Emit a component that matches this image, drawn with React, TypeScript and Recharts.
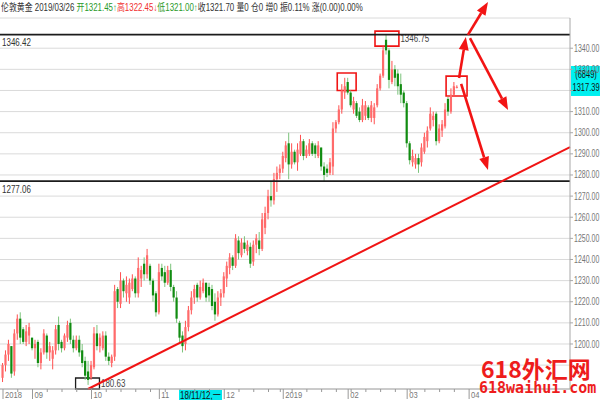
import {
  ComposedChart,
  Bar,
  XAxis,
  YAxis,
  CartesianGrid,
  ReferenceLine,
  ReferenceArea,
} from 'recharts'

// trading days shown on the chart, grouped by month
const tradingDays: [number, number, number[]][] = [
  [2018, 8, [20, 21, 22, 23, 24, 27, 28, 29, 30, 31]],
  [2018, 9, [3, 4, 5, 6, 7, 10, 11, 12, 13, 14, 17, 18, 19, 20, 21, 24, 25, 26, 27, 28]],
  [2018, 10, [1, 2, 3, 4, 5, 8, 9, 10, 11, 12, 15, 16, 17, 18, 19, 22, 23, 24, 25, 26, 29, 30, 31]],
  [2018, 11, [1, 2, 5, 6, 7, 8, 9, 12, 13, 14, 15, 16, 19, 20, 21, 22, 23, 26, 27, 28, 29, 30]],
  [2018, 12, [3, 4, 5, 6, 7, 10, 11, 12, 13, 14, 17, 18, 19, 20, 21, 24, 26, 27, 28, 31]],
  [2019, 1, [2, 3, 4, 7, 8, 9, 10, 11, 14, 15, 16, 17, 18, 21, 22, 23, 24, 25, 28, 29, 30, 31]],
  [2019, 2, [1, 4, 5, 6, 7, 8, 11, 12, 13, 14, 15, 18, 19, 20, 21, 22, 25, 26, 27, 28]],
  [2019, 3, [1, 4, 5, 6, 7, 8, 11, 12, 13, 14, 15, 18, 19, 20, 21, 22, 25, 26]],
]
const monthLabels = ['2018', '09', '10', '11', '12', '2019', '02', '03']
const nextMonthTick = { i: 158, label: '04' }
const cursorTick = { i: 60, label: '18/11/12,一' }

const opens = [
  1184, 1190, 1195, 1199, 1187, 1205, 1212, 1207, 1201, 1204,
  1203, 1198, 1201, 1191, 1196, 1204, 1196, 1193, 1197, 1209, 1201, 1198, 1203, 1210, 1202, 1198, 1202, 1197, 1192, 1187,
  1184, 1189, 1205, 1199, 1198, 1204, 1194, 1191, 1194, 1226, 1219, 1230, 1224, 1222, 1226, 1231, 1224, 1231, 1238, 1233, 1237, 1230, 1224,
  1215, 1236, 1234, 1229, 1235, 1227, 1222, 1210, 1204, 1200, 1208, 1216, 1222, 1228, 1222, 1225, 1229, 1227, 1226, 1220, 1214, 1222,
  1224, 1231, 1236, 1241, 1237, 1249, 1242, 1248, 1244, 1246, 1239, 1247, 1249, 1245, 1255, 1262, 1270, 1268, 1278, 1281,
  1283, 1288, 1295, 1285, 1291, 1286, 1290, 1296, 1289, 1290, 1295, 1294, 1289, 1293, 1284, 1283, 1281, 1284, 1302, 1305, 1311, 1319,
  1324, 1319, 1311, 1314, 1310, 1306, 1308, 1312, 1307, 1307, 1313, 1321, 1327, 1344, 1339, 1324, 1330, 1328, 1323, 1319,
  1314, 1295, 1286, 1285, 1288, 1286, 1291, 1296, 1302, 1306, 1309, 1296, 1301, 1303, 1316, 1310, 1318, 1321.45,
]
const highs = [
  1191, 1197, 1202, 1199, 1207, 1214, 1215, 1208, 1209, 1210,
  1203, 1202, 1202, 1198, 1207, 1205, 1201, 1199, 1209, 1213, 1202, 1205, 1211, 1212, 1204, 1204, 1204, 1200, 1194, 1192,
  1192, 1208, 1209, 1205, 1206, 1206, 1196, 1195, 1228, 1227, 1234, 1231, 1232, 1231, 1233, 1232, 1241, 1237, 1241, 1245, 1238, 1231, 1225,
  1238, 1238, 1237, 1237, 1238, 1228, 1225, 1211, 1206, 1211, 1218, 1225, 1228, 1229, 1230, 1231, 1229, 1229, 1228, 1224, 1225, 1226,
  1234, 1239, 1243, 1242, 1252, 1251, 1250, 1251, 1249, 1248, 1249, 1252, 1253, 1262, 1265, 1273, 1277, 1281, 1284, 1285,
  1291, 1296, 1300, 1295, 1292, 1295, 1299, 1297, 1294, 1297, 1296, 1295, 1296, 1293, 1286, 1285, 1288, 1305, 1306, 1313, 1323, 1326,
  1326, 1320, 1317, 1315, 1312, 1316, 1315, 1313, 1315, 1314, 1323, 1328, 1341, 1346.75, 1340, 1334, 1332, 1330, 1328, 1320,
  1315, 1296, 1292, 1290, 1290, 1295, 1300, 1303, 1312, 1310, 1310, 1304, 1306, 1314, 1317, 1321, 1324, 1322.45,
]
const lows = [
  1182, 1187, 1192, 1184, 1185, 1202, 1200, 1200, 1199, 1200,
  1197, 1193, 1189, 1188, 1195, 1193, 1192, 1188, 1195, 1197, 1196, 1197, 1201, 1200, 1196, 1197, 1194, 1189, 1183, 1180.63,
  1183, 1188, 1197, 1196, 1197, 1192, 1190, 1189, 1192, 1217, 1217, 1222, 1220, 1219, 1225, 1222, 1222, 1227, 1230, 1231, 1228, 1220, 1213,
  1214, 1230, 1227, 1228, 1225, 1220, 1210, 1200, 1196, 1197, 1206, 1214, 1219, 1220, 1221, 1224, 1220, 1220, 1216, 1211, 1213, 1218,
  1222, 1227, 1233, 1235, 1236, 1240, 1241, 1243, 1242, 1236, 1237, 1243, 1242, 1244, 1252, 1259, 1265, 1266, 1272, 1278,
  1281, 1286, 1278, 1283, 1285, 1282, 1289, 1287, 1288, 1289, 1289, 1288, 1288, 1282, 1277, 1279, 1280, 1280, 1300, 1304, 1309, 1316,
  1318, 1312, 1309, 1307, 1305, 1305, 1306, 1306, 1305, 1304, 1312, 1320, 1326, 1337, 1321, 1323, 1322, 1318, 1314, 1312,
  1293, 1285, 1284, 1283, 1281, 1284, 1290, 1293, 1301, 1303, 1294, 1295, 1298, 1302, 1308, 1309, 1317, 1321.0,
]
const closes = [
  1190, 1195, 1200, 1186, 1205, 1212, 1203, 1201, 1206, 1208,
  1198, 1200, 1191, 1196, 1205, 1196, 1199, 1197, 1207, 1200, 1198, 1204, 1209, 1202, 1198, 1202, 1196, 1191, 1185, 1183,
  1190, 1205, 1199, 1203, 1204, 1194, 1192, 1194, 1225, 1220, 1230, 1225, 1228, 1229, 1231, 1224, 1236, 1235, 1233, 1242, 1230, 1223, 1215,
  1234, 1232, 1229, 1235, 1227, 1222, 1212, 1203, 1199, 1208, 1216, 1222, 1226, 1222, 1227, 1229, 1222, 1223, 1218, 1214, 1222, 1224,
  1232, 1237, 1241, 1237, 1250, 1243, 1248, 1245, 1247, 1238, 1247, 1250, 1245, 1259, 1262, 1270, 1268, 1278, 1281, 1283,
  1289, 1294, 1285, 1291, 1286, 1292, 1296, 1289, 1292, 1295, 1290, 1290, 1294, 1284, 1280, 1281, 1286, 1302, 1305, 1311, 1320, 1322,
  1319, 1313, 1315, 1308, 1306, 1313, 1313, 1307, 1313, 1312, 1321, 1327, 1339, 1339, 1325, 1330, 1326, 1322, 1318, 1314,
  1295, 1287, 1289, 1288, 1285, 1293, 1298, 1301, 1309, 1308, 1296, 1302, 1304, 1311, 1310, 1318, 1322, 1321.7,
]

const yTicks = [1190, 1200, 1210, 1220, 1230, 1240, 1250, 1260, 1270, 1280, 1290, 1300, 1310, 1320, 1330, 1340]
const levelLines = [1346.42, 1277.06]
const trendLine = [{ x: 28.8, y: 1178.7 }, { x: 192.2, y: 1293.2 }]
const redBoxes = [
  { x1: 113.3, x2: 119.7, y1: 1320, y2: 1328.3 },
  { x1: 126.1, x2: 134.2, y1: 1341, y2: 1348.1, label: '1346.75' },
  { x1: 150.2, x2: 157.3, y1: 1317.4, y2: 1326.8 },
]
const lowBox = { x1: 24.6, x2: 32.7, y1: 1178.7, y2: 1183.9, label: '180.63' }
const arrows = [
  [{ x: 154.6, y: 1325.9 }, { x: 156.9, y: 1345.3 }],
  [{ x: 157.6, y: 1346.3 }, { x: 164.4, y: 1361.9 }],
  [{ x: 158.3, y: 1344.8 }, { x: 171.2, y: 1310.7 }],
  [{ x: 155.3, y: 1323.1 }, { x: 164.4, y: 1282.4 }],
]
const lastPrice = 1317.39
const lastVolume = '(6849)'

const X_MIN = -1.02
const X_MAX = 192.2
const Y_MIN = 1178.7
const Y_MAX = 1354.3

const UP = '#ff6b6b'
const UP_WICK = '#ff5050'
const DOWN = '#118c11'
const DOWN_WICK = '#7cc47c'
const FONT = '"Liberation Sans", Arial, "Noto Sans CJK SC", sans-serif'

const dates = tradingDays.flatMap(([y, m, ds]) => ds.map((d) => new Date(y, m - 1, d)))

const data = dates.map((d, i) => ({
  i,
  date: d,
  open: opens[i],
  high: highs[i],
  low: lows[i],
  close: closes[i],
  range: [lows[i], highs[i]],
}))

const monthTicks = new Map<number, string>()
{
  let start = 0
  tradingDays.forEach(([, , ds], k) => {
    monthTicks.set(start, monthLabels[k])
    start += ds.length
  })
  monthTicks.set(nextMonthTick.i, nextMonthTick.label)
}
const weekTicks = dates
  .map((d, i) => (i > 0 && d.getDay() < dates[i - 1].getDay() ? i : -1))
  .filter((i) => i > 0 && !monthTicks.has(i))
const xTicks = [...monthTicks.keys(), ...weekTicks].sort((a, b) => a - b)

const squish = (x: number, y: number, k = 0.8) => `translate(${x},${y}) scale(${k},1)`

function Candle(props: any) {
  const { x, y, width, height, payload } = props
  if (x == null || y == null || !payload) return null
  const { open, close, high, low } = payload
  const top = Math.min(y, y + height)
  const h = Math.abs(height)
  const py = (p: number) => (high === low ? top : top + ((high - p) / (high - low)) * h)
  const cx = x + width / 2
  const up = close >= open
  const bTop = py(Math.max(open, close))
  const bH = Math.max(1, py(Math.min(open, close)) - bTop)
  return (
    <g>
      <rect x={cx - 0.5} y={top} width={1} height={Math.max(h, 1)} fill={up ? UP_WICK : DOWN_WICK} />
      <rect x={cx - 1.1} y={bTop} width={2.2} height={bH} fill={up ? UP : DOWN} />
    </g>
  )
}

function XTick(props: any) {
  const { x, y, payload } = props
  const v = payload.value
  const label = monthTicks.get(v)
  if (label) {
    return (
      <g>
        <line x1={x} x2={x} y1={y} y2={y + 10} stroke="#999" />
        <text transform={squish(x + 2, y + 9)} fontSize={9.5} fill="#777" fontFamily={FONT}>
          {label}
        </text>
      </g>
    )
  }
  if (v === cursorTick.i) {
    return (
      <g>
        <line x1={x} x2={x} y1={y} y2={y + 3} stroke="#999" />
        <rect x={x - 1} y={y + 1} width={43} height={10} fill="#00e8ec" />
        <text transform={squish(x, y + 9.5)} fontSize={10} fill="#111" fontFamily={FONT}>
          {cursorTick.label}
        </text>
      </g>
    )
  }
  return <line x1={x} x2={x} y1={y} y2={y + 3} stroke="#999" />
}

// labels under the price tag or the watermark are not drawn
function YTick(props: any) {
  const { x, y, payload } = props
  const v = payload.value
  if (v < 1200 || (v > lastPrice && v < lastPrice + 10)) return null
  return (
    <text transform={squish(x, y, 0.7)} dy="0.35em" fontSize={10} fill="#777" fontFamily={FONT}>
      {v.toFixed(2)}
    </text>
  )
}

const arrowShape = (p: any) => {
  const { x1, y1, x2, y2 } = p
  const a = Math.atan2(y2 - y1, x2 - x1)
  const L = 13
  const W = 5
  const bx = x2 - L * Math.cos(a)
  const by = y2 - L * Math.sin(a)
  const nx = -Math.sin(a) * W
  const ny = Math.cos(a) * W
  return (
    <g>
      <line x1={x1} y1={y1} x2={bx} y2={by} stroke="#f21414" strokeWidth={2.6} />
      <polygon points={`${x2},${y2} ${bx + nx},${by + ny} ${bx - nx},${by - ny}`} fill="#f21414" />
    </g>
  )
}

const levelLabel = (text: string) => (p: any) => {
  const vb = p.viewBox
  return (
    <text transform={squish(vb.x + 2, vb.y + 8)} dy="0.35em" fontSize={10} fill="#333" fontFamily={FONT}>
      {text}
    </text>
  )
}

const boxLabel = (text: string) => (p: any) => {
  const vb = p.viewBox
  return (
    <text
      transform={squish(vb.x + vb.width + 1.5, vb.y + vb.height / 2)}
      dy="0.35em"
      fontSize={10}
      fill="#444"
      fontFamily={FONT}
    >
      {text}
    </text>
  )
}

const priceTag = (p: any) => {
  const vb = p.viewBox
  const x = vb.x + vb.width + 1
  const y = vb.y
  return (
    <g>
      <rect x={x} y={y - 30} width={30} height={30} fill="#00f0f0" />
      <text transform={squish(x + 15, y - 21, 0.75)} dy="0.35em" textAnchor="middle" fontSize={10} fill="#111" fontFamily={FONT}>
        {lastVolume}
      </text>
      <text transform={squish(x + 15, y - 8, 0.75)} dy="0.35em" textAnchor="middle" fontSize={10} fill="#111" fontFamily={FONT}>
        {lastPrice.toFixed(2)}
      </text>
    </g>
  )
}

export default function App() {
  const n = opens.length - 1
  const fmt = (v: number) => v.toFixed(2)
  const amp = (((highs[n] - lows[n]) / closes[n - 1]) * 100).toFixed(2)
  return (
    <div style={{ position: 'relative', width: 600, height: 400, background: '#fff', overflow: 'hidden' }}>
      <style>{'body{margin:0}'}</style>
      <ComposedChart width={600} height={400} data={data} margin={{ top: 18, right: 0, bottom: 0, left: 0 }}>
        <CartesianGrid horizontal vertical={false} stroke="#dadada" />
        <XAxis
          type="number"
          dataKey="i"
          domain={[X_MIN, X_MAX]}
          allowDataOverflow
          ticks={xTicks}
          interval={0}
          tick={<XTick />}
          tickLine={false}
          tickSize={0}
          tickMargin={0}
          height={11}
          axisLine={{ stroke: '#a8a8a8' }}
        />
        <YAxis
          orientation="right"
          type="number"
          domain={[Y_MIN, Y_MAX]}
          allowDataOverflow
          ticks={yTicks}
          interval={0}
          width={30}
          tick={<YTick />}
          tickSize={3}
          tickMargin={1}
          axisLine={{ stroke: '#a8a8a8' }}
          tickLine={{ stroke: '#a8a8a8' }}
        />
        <Bar dataKey="range" shape={<Candle />} barSize={2} isAnimationActive={false} />
        {levelLines.map((v) => (
          <ReferenceLine key={v} y={v} stroke="#1c1c1c" strokeWidth={1.8} label={levelLabel(v.toFixed(2))} />
        ))}
        <ReferenceLine segment={trendLine} stroke="#f01414" strokeWidth={2} ifOverflow="visible" />
        {redBoxes.map((b, k) => (
          <ReferenceArea
            key={k}
            x1={b.x1}
            x2={b.x2}
            y1={b.y1}
            y2={b.y2}
            fill="none"
            stroke="#f01414"
            strokeWidth={1.6}
            ifOverflow="visible"
            label={b.label ? boxLabel(b.label) : undefined}
          />
        ))}
        <ReferenceArea
          x1={lowBox.x1}
          x2={lowBox.x2}
          y1={lowBox.y1}
          y2={lowBox.y2}
          fill="none"
          stroke="#1c1c1c"
          strokeWidth={1.3}
          ifOverflow="visible"
          label={boxLabel(lowBox.label)}
        />
        {arrows.map((seg, k) => (
          <ReferenceLine key={k} segment={seg} shape={arrowShape} ifOverflow="visible" />
        ))}
        <ReferenceLine y={lastPrice} stroke="none" ifOverflow="visible" label={priceTag} />
      </ComposedChart>

      <div
        style={{
          position: 'absolute',
          left: 1,
          top: 2,
          fontSize: 10,
          lineHeight: '12px',
          whiteSpace: 'nowrap',
          transform: 'scaleX(0.79)',
          transformOrigin: 'left top',
          fontFamily: FONT,
          color: '#333',
        }}
      >
        <span>伦敦黄金 2019/03/26 </span>
        <span style={{ color: '#2a9a2a' }}>开{fmt(opens[n])}↑</span>
        <span style={{ color: '#f03030' }}>高{fmt(highs[n])}↓</span>
        <span style={{ color: '#2a9a2a' }}>低{fmt(lows[n])}↑</span>
        <span>收{fmt(closes[n])} 量0 仓0 增0 振{amp}% 涨(0.00)0.00%</span>
      </div>

      <div
        style={{
          position: 'absolute',
          left: 481,
          top: 356,
          color: '#ee1c1c',
          fontWeight: 700,
          fontSize: 23,
          lineHeight: '24px',
          height: 24,
          fontFamily: '"Noto Sans CJK SC", sans-serif',
          whiteSpace: 'nowrap',
        }}
      >
        618外汇网
      </div>
      <div
        style={{
          position: 'absolute',
          left: 479,
          top: 380,
          color: '#ee1c1c',
          fontWeight: 700,
          fontSize: 15,
          lineHeight: '16px',
          fontFamily: '"DejaVu Sans Mono", monospace',
          whiteSpace: 'nowrap',
        }}
      >
        618waihui.com
      </div>
    </div>
  )
}
